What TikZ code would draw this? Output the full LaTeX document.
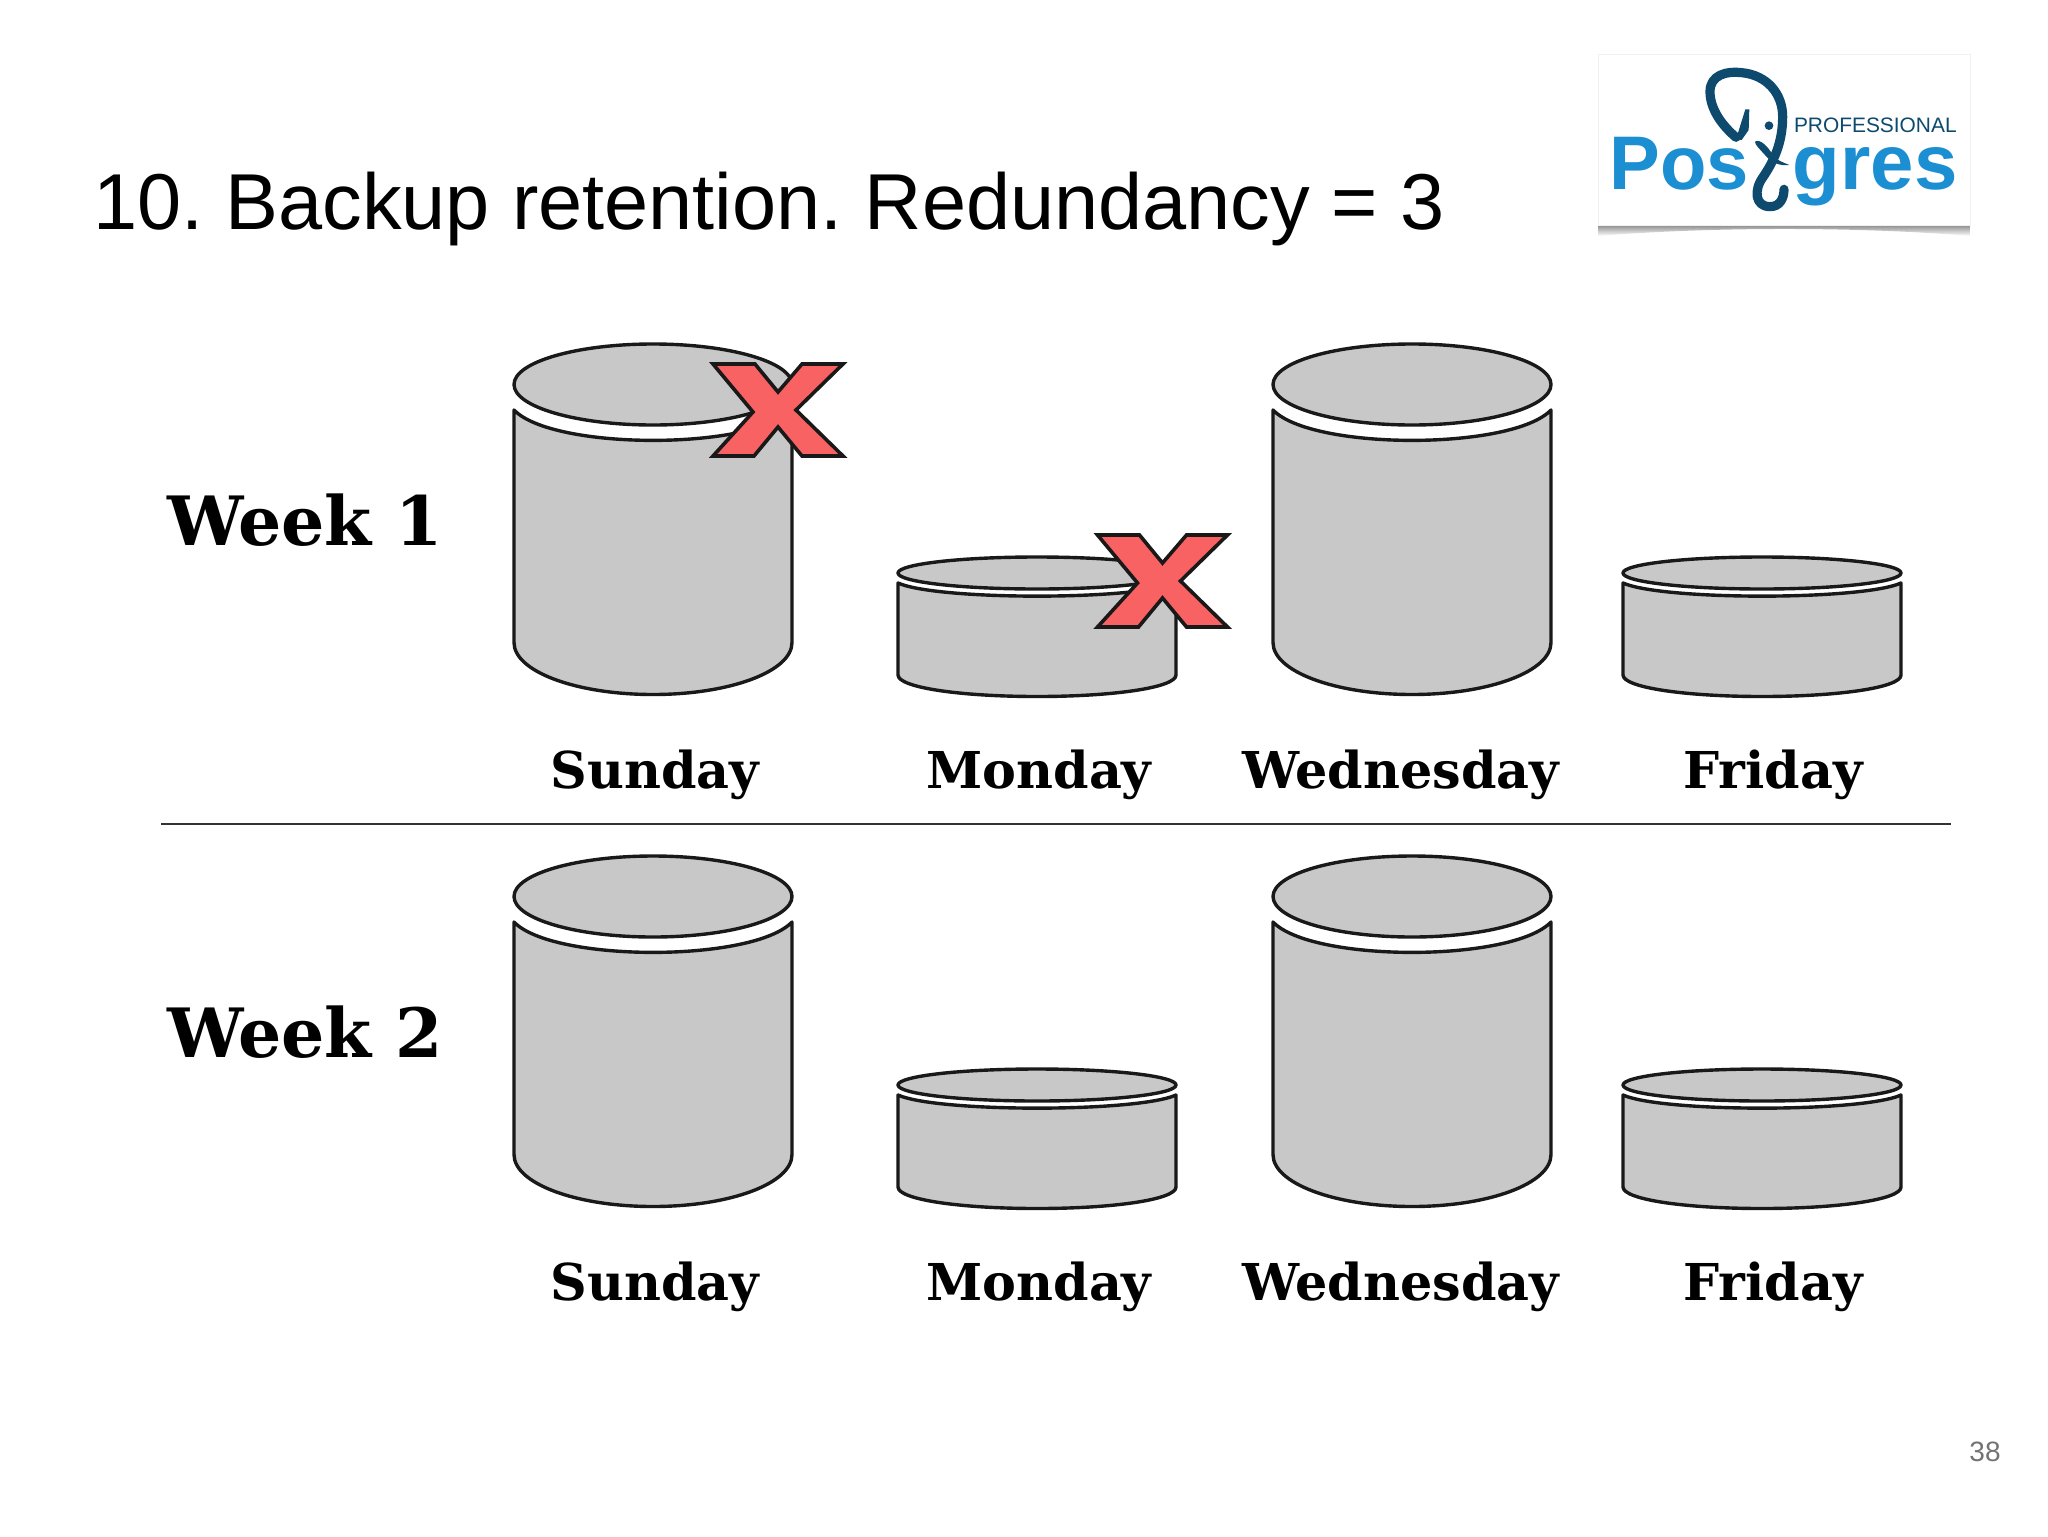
\documentclass[tikz,border=0pt]{standalone}
\usepackage{fontspec}
\setmainfont{Liberation Sans}
\newfontfamily\serifbold{DejaVu Serif}
\usetikzlibrary{positioning}
\definecolor{cangray}{HTML}{C8C8C9}
\definecolor{crossred}{HTML}{F96262}
\definecolor{logoblue}{HTML}{1B8FD2}
\definecolor{logonavy}{HTML}{0D4A6E}
\frenchspacing
\tikzset{
    x=0.5pt,y=-0.5pt,
    canline/.style={
        draw=black!90,
        fill=cangray,
        line width=1.7pt,
        line join=round},
    crossline/.style={
        draw=black!90,
        fill=crossred,
        line width=1.8pt,
        line join=miter},
    daytext/.style={
        font=\serifbold\bfseries\fontsize{25.4}{30}\selectfont,
        text=black,
        anchor=base,
        inner sep=0pt},
    weektext/.style={
        font=\serifbold\bfseries\fontsize{34}{40}\selectfont,
        text=black,
        anchor=base west,
        inner sep=0pt},
    trunkline/.style={
        draw=logonavy,
        line width=4.6pt,
        line cap=round,
        line join=round},
    tall can/.pic={
        \draw[canline] (-139,26.5) .. controls (-100,67) and (100,67) .. (139,26.5)
            -- (139,259) .. controls (139,288) and (77,311) .. (0,311)
            .. controls (-77,311) and (-139,288) .. (-139,259) -- cycle;
        \draw[canline] (0,1) ellipse [x radius=69.5pt,y radius=20.25pt];
    },
    short can/.pic={
        \draw[canline] (-139,10.5) .. controls (-100,28) and (100,28) .. (139,10.5)
            -- (139,102.5) .. controls (139,115) and (77,124) .. (0,124)
            .. controls (-77,124) and (-139,115) .. (-139,102.5) -- cycle;
        \draw[canline] (0,0.5) ellipse [x radius=69.5pt,y radius=8pt];
    },
    cross mark/.pic={
        \draw[crossline] (-65,-46) -- (-23,-46) -- (0,-18) -- (24,-46) -- (65,-46)
            -- (18,0) -- (65,46) -- (24,46) -- (0,17) -- (-24,46) -- (-65,46)
            -- (-25,2) -- cycle;
    }}
\begin{document}
\begin{tikzpicture}
        \useasboundingbox (0,0) rectangle (2048,1536);

        \node[anchor=base west,inner sep=0pt,font=\fontsize{39.65}{48}\selectfont] (title) at (93,229) {10. Backup retention. Redundancy = 3};
        \node[anchor=base east,inner sep=0pt,text=black!55,font=\fontsize{14}{17}\selectfont] (pageno) at (2001,1461) {38};

        % logo
        \begin{scope}[shift={(1560,30)},scale=0.3333]
            \shade[top color=black!45,bottom color=white] (115,585) -- (1232,585) -- (1232,618)
                .. controls (900,590) and (450,590) .. (115,618) -- cycle;
            \draw[black!6,fill=white] (115,72) rectangle (1232,585);
            \draw[trunkline] (528,322) .. controls (490,290) and (450,240) .. (450,185)
                .. controls (450,135) and (500,122) .. (545,128)
                .. controls (620,135) and (668,190) .. (668,260)
                .. controls (668,340) and (640,395) .. (610,440)
                .. controls (580,480) and (585,530) .. (630,530)
                .. controls (660,530) and (672,505) .. (672,478);
            \fill[logonavy] (528,328) -- (556,238) -- (568,238) -- (566,300) -- (545,330) -- cycle;
            \fill[logonavy] (585,335) .. controls (600,325) and (625,350) .. (640,378)
                .. controls (650,390) and (670,398) .. (688,405)
                .. controls (660,408) and (635,400) .. (615,375)
                .. controls (600,358) and (585,345) .. (585,335) -- cycle;
            \fill[logonavy] (627,287) circle [radius=6.5pt];
        \end{scope}
        \node[anchor=base west,inner sep=0pt,text=logoblue,font=\bfseries\fontsize{38}{46}\selectfont] (logopos) at (1609,189) {Pos};
        \node[anchor=base east,inner sep=0pt,text=logoblue,font=\bfseries\fontsize{39}{46}\selectfont] (logogres) at (1958,189) {gres};
        \node[anchor=base east,inner sep=0pt,text=logonavy,font=\fontsize{10.45}{13}\selectfont] (logopro) at (1957,133) {PROFESSIONAL};

        % week 1
        \node[weektext] (week1) at (167,545) {Week 1};
        \pic at (653,383.5) {tall can};
        \pic at (1037,572.5) {short can};
        \pic at (1412,383.5) {tall can};
        \pic at (1762,572.5) {short can};
        \pic at (778,410) {cross mark};
        \pic at (1162.5,581) {cross mark};
        \node[daytext] (sun1) at (655,788) {Sunday};
        \node[daytext] (mon1) at (1039,788) {Monday};
        \node[daytext] (wed1) at (1401,788) {Wednesday};
        \node[daytext] (fri1) at (1773,788) {Friday};

        \coordinate (ruleleft) at (161,824);
        \coordinate (ruleright) at (1951,824);
        \draw[black!80,line width=1.1pt] (ruleleft) -- (ruleright);

        % week 2
        \node[weektext] (week2) at (167,1057) {Week 2};
        \pic at (653,895.5) {tall can};
        \pic at (1037,1084.5) {short can};
        \pic at (1412,895.5) {tall can};
        \pic at (1762,1084.5) {short can};
        \node[daytext] (sun2) at (655,1300) {Sunday};
        \node[daytext] (mon2) at (1039,1300) {Monday};
        \node[daytext] (wed2) at (1401,1300) {Wednesday};
        \node[daytext] (fri2) at (1773,1300) {Friday};
    \end{tikzpicture}
\end{document}
